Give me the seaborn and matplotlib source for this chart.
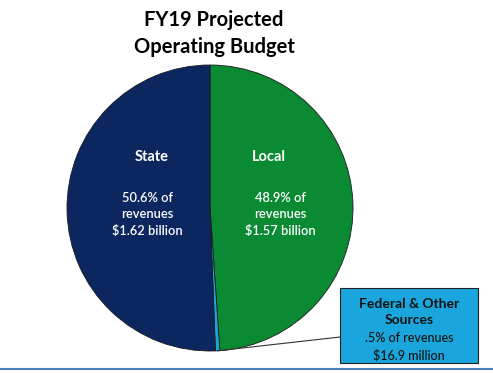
import seaborn as sns
import matplotlib.pyplot as plt
import numpy as np
from matplotlib.patches import Rectangle
from matplotlib.lines import Line2D

# values
sources = ['Local', 'Federal & Other Sources', 'State']
shares = [48.9, 0.5, 50.6]
colors = ['#0a8a32', '#1aa6dc', '#0c2660']

sns.set_theme(style='white')
plt.rcParams['font.family'] = ['Lato', 'DejaVu Sans']

W, H = 493, 373
fig = plt.figure(figsize=(W / 100, H / 100), dpi=100, facecolor='white')

def fx(x):
    return x / W

def fy(y):
    return 1 - y / H

# pie axes: centre (210, 208) px, radius 143 px
cx, cy, r = 210, 208, 143
ax = fig.add_axes([fx(cx - r), fy(cy + r), 2 * r / W, 2 * r / H])
wedges, _ = ax.pie(shares, colors=colors, startangle=90, counterclock=False,
                   wedgeprops={'linewidth': 0.6, 'edgecolor': '#1a1a1a'})
ax.set_xlim(-1.0, 1.0)
ax.set_ylim(-1.0, 1.0)
ax.set_aspect('auto')
ax.axis('off')

# title
fig.text(fx(214), fy(20), 'FY19 Projected', ha='center', va='center',
         fontsize=14.5, fontweight='bold', color='black')
fig.text(fx(214), fy(47), 'Operating Budget', ha='center', va='center',
         fontsize=14.5, fontweight='bold', color='black')

# wedge labels
fig.text(fx(152), fy(157), 'State', ha='center', va='center',
         fontsize=10.5, fontweight='bold', color='white')
fig.text(fx(147), fy(214), '50.6% of\nrevenues\n$1.62 billion', ha='center', va='center',
         fontsize=9.3, fontweight='semibold', color='white', linespacing=1.45)
fig.text(fx(269), fy(157), 'Local', ha='center', va='center',
         fontsize=10.5, fontweight='bold', color='white')
fig.text(fx(280), fy(214), '48.9% of\nrevenues\n$1.57 billion', ha='center', va='center',
         fontsize=9.3, fontweight='semibold', color='white', linespacing=1.45)

# callout box for the small slice
bx0, by0, bx1, by1 = 340, 288, 478, 363
fig.add_artist(Rectangle((fx(bx0), fy(by1)), fx(bx1 - bx0), (by1 - by0) / H,
                         facecolor='#1aa6dc', edgecolor='#222222', linewidth=0.8))
fig.text(fx((bx0 + bx1) / 2), fy(312), 'Federal & Other\nSources', ha='center', va='center',
         fontsize=10, fontweight='bold', color='#111111', linespacing=1.35)
fig.text(fx((bx0 + bx1) / 2), fy(347), '.5% of revenues\n$16.9 million', ha='center', va='center',
         fontsize=9, fontweight='medium', color='#111111', linespacing=1.45)

# leader line from the federal slice edge to the box
w = wedges[1]
ang = np.deg2rad((w.theta1 + w.theta2) / 2)
ax.annotate('', xy=(np.cos(ang), np.sin(ang)), xycoords='data',
            xytext=(fx(bx0), fy(337)), textcoords='figure fraction',
            arrowprops={'arrowstyle': '-', 'color': '#333333', 'lw': 0.8,
                        'shrinkA': 0, 'shrinkB': 0})

# slide rule at the bottom
fig.add_artist(Line2D([0, 1], [fy(369), fy(369)], color='#4a7ebb', linewidth=1.5))

fig.savefig('out.png', dpi=100, facecolor='white')
